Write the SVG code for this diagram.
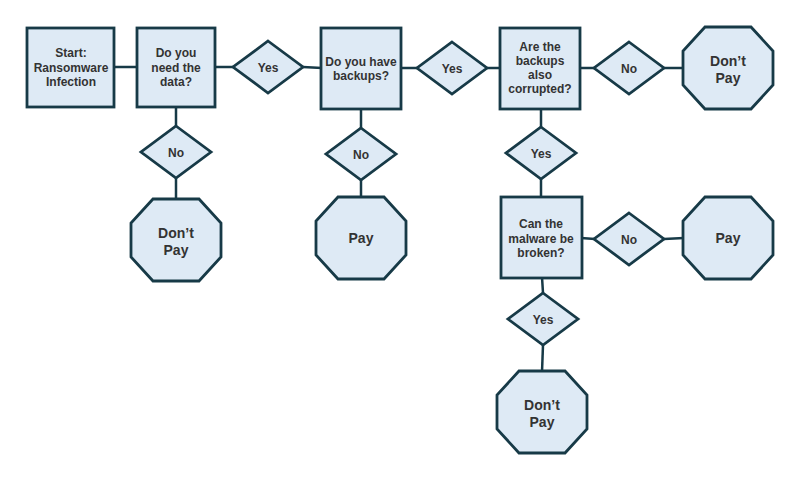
<svg xmlns="http://www.w3.org/2000/svg" xmlns:xlink="http://www.w3.org/1999/xlink" width="800" height="480" viewBox="0 0 800 480">
<style>
.shape{fill:#deeaf5;stroke:#173a47;stroke-width:2.8;stroke-linejoin:miter}
.line{stroke:#173a47;stroke-width:2.5;fill:none}
text{font-family:"Liberation Sans",Arial,sans-serif;font-weight:bold;fill:#333333;text-anchor:middle}
.t{font-size:12px}
.big{font-size:14px}
</style>
<defs>
<polygon id="oct" points="-23,-41 23,-41 45,-17 45,17 23,41 -23,41 -45,17 -45,-17"/>
<polygon id="dia" points="0,-26 35,0 0,26 -35,0"/>
</defs>
<rect width="800" height="480" fill="#ffffff"/>
<g id="connectors">
<line class="line" x1="114" y1="67" x2="138" y2="67"/>
<line class="line" x1="214" y1="67" x2="233" y2="67"/>
<line class="line" x1="303" y1="67" x2="322" y2="68"/>
<line class="line" x1="400" y1="68" x2="418" y2="68"/>
<line class="line" x1="487" y1="68" x2="501" y2="68"/>
<line class="line" x1="579" y1="68" x2="595" y2="68"/>
<line class="line" x1="663" y1="68" x2="684" y2="68"/>
<line class="line" x1="176" y1="106" x2="176" y2="126"/>
<line class="line" x1="176" y1="178" x2="176" y2="200"/>
<line class="line" x1="361" y1="108" x2="361" y2="128"/>
<line class="line" x1="361" y1="180" x2="361" y2="198"/>
<line class="line" x1="541" y1="108" x2="541" y2="127"/>
<line class="line" x1="541" y1="179" x2="541" y2="198"/>
<line class="line" x1="581" y1="238" x2="595" y2="239"/>
<line class="line" x1="664" y1="239" x2="684" y2="238"/>
<line class="line" x1="542" y1="277" x2="543" y2="293"/>
<line class="line" x1="543" y1="345" x2="542" y2="372"/>
</g>
<g id="start">
<rect class="shape" x="27" y="28" width="87" height="79"/>
<text class="t" x="71" y="57">Start:</text>
<text class="t" x="71" y="72">Ransomware</text>
<text class="t" x="71" y="86">Infection</text>
</g>
<g id="need-data">
<rect class="shape" x="137" y="28" width="78" height="79"/>
<text class="t" x="176" y="57">Do you</text>
<text class="t" x="176" y="72">need the</text>
<text class="t" x="176" y="86">data?</text>
</g>
<g id="yes1">
<use href="#dia" xlink:href="#dia" class="shape" x="268" y="67"/>
<text class="t" x="268" y="72">Yes</text>
</g>
<g id="have-backups">
<rect class="shape" x="321" y="28" width="80" height="81"/>
<text class="t" x="361" y="66">Do you have</text>
<text class="t" x="361" y="80">backups?</text>
</g>
<g id="yes2">
<use href="#dia" xlink:href="#dia" class="shape" x="452" y="68"/>
<text class="t" x="452" y="73">Yes</text>
</g>
<g id="corrupted">
<rect class="shape" x="500" y="28" width="80" height="81"/>
<text class="t" x="540" y="51">Are the</text>
<text class="t" x="540" y="65">backups</text>
<text class="t" x="540" y="79">also</text>
<text class="t" x="540" y="93">corrupted?</text>
</g>
<g id="no1">
<use href="#dia" xlink:href="#dia" class="shape" x="629" y="68"/>
<text class="t" x="629" y="73">No</text>
</g>
<g id="dontpay1">
<use href="#oct" xlink:href="#oct" class="shape" x="728" y="68"/>
<text class="big" x="728" y="66">Don’t</text>
<text class="big" x="728" y="83">Pay</text>
</g>
<g id="no2">
<use href="#dia" xlink:href="#dia" class="shape" x="176" y="152"/>
<text class="t" x="176" y="157">No</text>
</g>
<g id="dontpay2">
<use href="#oct" xlink:href="#oct" class="shape" x="176" y="240"/>
<text class="big" x="176" y="238">Don’t</text>
<text class="big" x="176" y="255">Pay</text>
</g>
<g id="no3">
<use href="#dia" xlink:href="#dia" class="shape" x="361" y="154"/>
<text class="t" x="361" y="159">No</text>
</g>
<g id="pay1">
<use href="#oct" xlink:href="#oct" class="shape" x="361" y="238"/>
<text class="big" x="361" y="243">Pay</text>
</g>
<g id="yes3">
<use href="#dia" xlink:href="#dia" class="shape" x="541" y="153"/>
<text class="t" x="541" y="158">Yes</text>
</g>
<g id="malware">
<rect class="shape" x="501" y="197" width="81" height="81"/>
<text class="t" x="541" y="228">Can the</text>
<text class="t" x="541" y="243">malware be</text>
<text class="t" x="541" y="257">broken?</text>
</g>
<g id="no4">
<use href="#dia" xlink:href="#dia" class="shape" x="629" y="239"/>
<text class="t" x="629" y="244">No</text>
</g>
<g id="pay2">
<use href="#oct" xlink:href="#oct" class="shape" x="728" y="238"/>
<text class="big" x="728" y="243">Pay</text>
</g>
<g id="yes4">
<use href="#dia" xlink:href="#dia" class="shape" x="543" y="319"/>
<text class="t" x="543" y="324">Yes</text>
</g>
<g id="dontpay3">
<use href="#oct" xlink:href="#oct" class="shape" x="542" y="412"/>
<text class="big" x="542" y="410">Don’t</text>
<text class="big" x="542" y="427">Pay</text>
</g>
</svg>
